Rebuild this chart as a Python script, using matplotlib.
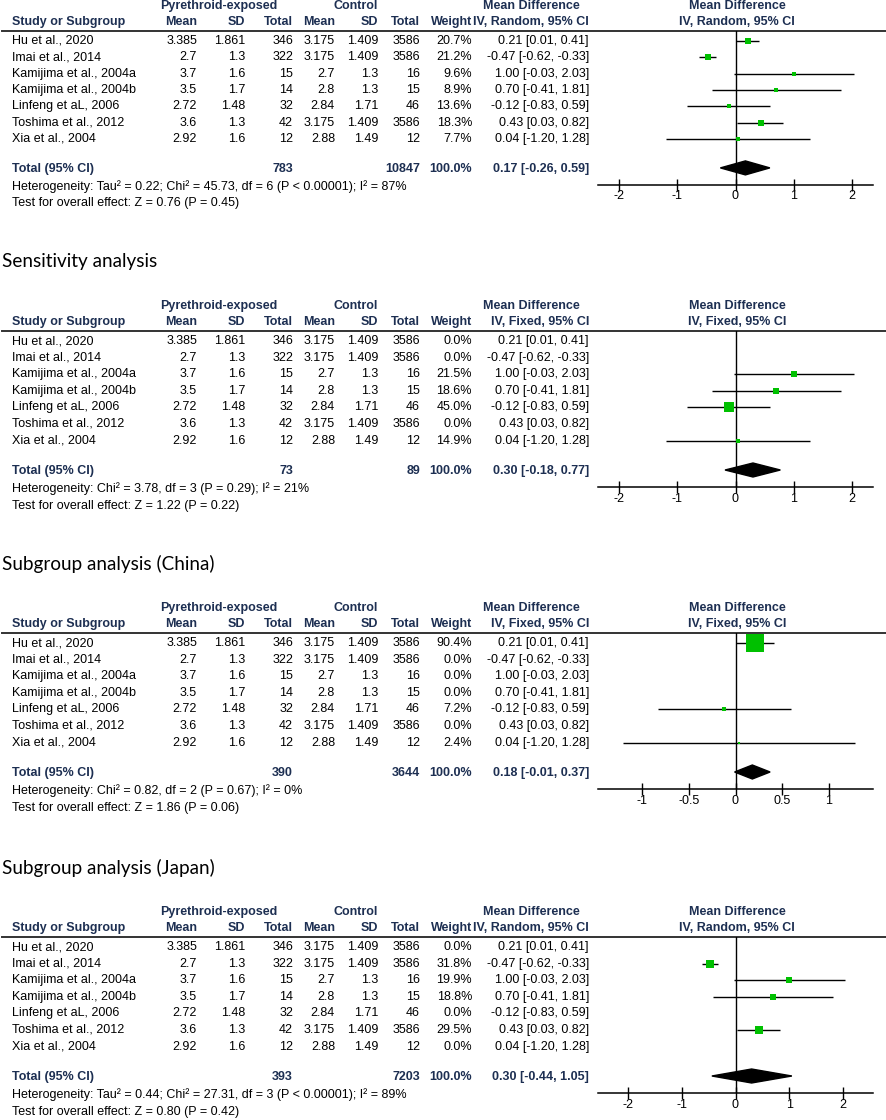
import matplotlib
matplotlib.use("Agg")
import matplotlib.pyplot as plt

# ---- data ----
studies = ["Hu et al., 2020", "Imai et al., 2014", "Kamijima et al., 2004a",
           "Kamijima et al., 2004b", "Linfeng et aL, 2006", "Toshima et al., 2012",
           "Xia et al., 2004"]
exp_mean = ["3.385", "2.7", "3.7", "3.5", "2.72", "3.6", "2.92"]
exp_sd = ["1.861", "1.3", "1.6", "1.7", "1.48", "1.3", "1.6"]
exp_n = [346, 322, 15, 14, 32, 42, 12]
ctrl_mean = ["3.175", "3.175", "2.7", "2.8", "2.84", "3.175", "2.88"]
ctrl_sd = ["1.409", "1.409", "1.3", "1.3", "1.71", "1.409", "1.49"]
ctrl_n = [3586, 3586, 16, 15, 46, 3586, 12]
md = [0.21, -0.47, 1.00, 0.70, -0.12, 0.43, 0.04]
ci_lo = [0.01, -0.62, -0.03, -0.41, -0.83, 0.03, -1.20]
ci_hi = [0.41, -0.33, 2.03, 1.81, 0.59, 0.82, 1.28]

panel_titles = [None, "Sensitivity analysis", "Subgroup analysis (China)",
                "Subgroup analysis (Japan)"]
panel_methods = ["Random", "Fixed", "Fixed", "Random"]
panel_weights = [
    [20.7, 21.2, 9.6, 8.9, 13.6, 18.3, 7.7],
    [0.0, 0.0, 21.5, 18.6, 45.0, 0.0, 14.9],
    [90.4, 0.0, 0.0, 0.0, 7.2, 0.0, 2.4],
    [0.0, 31.8, 19.9, 18.8, 0.0, 29.5, 0.0],
]
total_exp = [783, 73, 390, 393]
total_ctrl = [10847, 89, 3644, 7203]
total_md = [0.17, 0.30, 0.18, 0.30]
total_lo = [-0.26, -0.18, -0.01, -0.44]
total_hi = [0.59, 0.77, 0.37, 1.05]
heterogeneity = [
    "Heterogeneity: Tau\u00b2 = 0.22; Chi\u00b2 = 45.73, df = 6 (P < 0.00001); I\u00b2 = 87%",
    "Heterogeneity: Chi\u00b2 = 3.78, df = 3 (P = 0.29); I\u00b2 = 21%",
    "Heterogeneity: Chi\u00b2 = 0.82, df = 2 (P = 0.67); I\u00b2 = 0%",
    "Heterogeneity: Tau\u00b2 = 0.44; Chi\u00b2 = 27.31, df = 3 (P < 0.00001); I\u00b2 = 89%",
]
overall_effect = ["Z = 0.76 (P = 0.45)", "Z = 1.22 (P = 0.22)",
                  "Z = 1.86 (P = 0.06)", "Z = 0.80 (P = 0.42)"]
panel_ticks = [[-2, -1, 0, 1, 2], [-2, -1, 0, 1, 2],
               [-1, -0.5, 0, 0.5, 1], [-2, -1, 0, 1, 2]]
tick_labels = [["-2", "-1", "0", "1", "2"], ["-2", "-1", "0", "1", "2"],
               ["-1", "-0.5", "0", "0.5", "1"], ["-2", "-1", "0", "1", "2"]]
panel_xmax = [2.36, 2.36, 1.47, 2.56]

# ---- layout (pixels) ----
W, H = 886, 1120
RULE_Y = [31, 331, 633, 937]
PANEL_SCALE = [0.985, 1.0, 1.0, 1.0]  # first panel is packed a bit tighter
ROW0 = 10
ROW_STEP = 16.6
TOTAL_OFF = 140
HET_OFF = 158
TEST_OFF = 175
AXIS_OFF = 156
FOREST_L, FOREST_R = 598, 873

COL_EXP_MEAN, COL_EXP_SD, COL_EXP_N = 197, 245, 293
COL_CTL_MEAN, COL_CTL_SD, COL_CTL_N = 335, 378, 420
COL_WEIGHT, COL_CI = 472, 589

FONT = "Liberation Sans"
FS = 9
HEAD = "#1d2f52"
GREEN = "#00c000"

fig = plt.figure(figsize=(W / 100, H / 100), dpi=100)
ax = fig.add_axes([0, 0, 1, 1])
ax.set_xlim(0, W)
ax.set_ylim(H, 0)
ax.axis("off")


def txt(x, y, s, ha="left", bold=False, color="black", size=FS, family=FONT):
    ax.text(x, y, s, ha=ha, va="center", fontsize=size, family=family,
            fontweight="bold" if bold else "normal", color=color)


def draw_panel(p):
    top = RULE_Y[p]
    k = PANEL_SCALE[p]
    if panel_titles[p]:
        txt(2, top - 69, panel_titles[p], size=13.6, family="Lato")

    method = panel_methods[p]
    # headers
    txt(219, top - 25, "Pyrethroid-exposed", ha="center", bold=True, color=HEAD)
    txt(356, top - 25, "Control", ha="center", bold=True, color=HEAD)
    txt(531, top - 25, "Mean Difference", ha="center", bold=True, color=HEAD)
    txt(737, top - 25, "Mean Difference", ha="center", bold=True, color=HEAD)
    txt(12, top - 9, "Study or Subgroup", bold=True, color=HEAD)
    for x, s in [(COL_EXP_MEAN, "Mean"), (COL_EXP_SD, "SD"), (COL_EXP_N, "Total"),
                 (COL_CTL_MEAN, "Mean"), (COL_CTL_SD, "SD"), (COL_CTL_N, "Total"),
                 (COL_WEIGHT, "Weight"), (COL_CI, f"IV, {method}, 95% CI")]:
        txt(x, top - 9, s, ha="right", bold=True, color=HEAD)
    txt(737, top - 9, f"IV, {method}, 95% CI", ha="center", bold=True, color=HEAD)
    ax.axhline(top, xmin=2 / W, xmax=1, color="#333333", lw=1.4)

    weights = panel_weights[p]
    row_y = [k * (ROW0 + i * ROW_STEP) for i in range(len(studies))]
    for i, name in enumerate(studies):
        y = top + row_y[i]
        txt(12, y, name)
        txt(COL_EXP_MEAN, y, exp_mean[i], ha="right")
        txt(COL_EXP_SD, y, exp_sd[i], ha="right")
        txt(COL_EXP_N, y, str(exp_n[i]), ha="right")
        txt(COL_CTL_MEAN, y, ctrl_mean[i], ha="right")
        txt(COL_CTL_SD, y, ctrl_sd[i], ha="right")
        txt(COL_CTL_N, y, str(ctrl_n[i]), ha="right")
        txt(COL_WEIGHT, y, f"{weights[i]:.1f}%", ha="right")
        txt(COL_CI, y, f"{md[i]:.2f} [{ci_lo[i]:.2f}, {ci_hi[i]:.2f}]", ha="right")

    ty = top + k * TOTAL_OFF
    txt(12, ty, "Total (95% CI)", bold=True, color=HEAD)
    txt(COL_EXP_N, ty, str(total_exp[p]), ha="right", bold=True, color=HEAD)
    txt(COL_CTL_N, ty, str(total_ctrl[p]), ha="right", bold=True, color=HEAD)
    txt(COL_WEIGHT, ty, "100.0%", ha="right", bold=True, color=HEAD)
    txt(COL_CI, ty, f"{total_md[p]:.2f} [{total_lo[p]:.2f}, {total_hi[p]:.2f}]",
        ha="right", bold=True, color=HEAD)
    txt(12, top + k * HET_OFF, heterogeneity[p])
    txt(12, top + k * TEST_OFF, "Test for overall effect: " + overall_effect[p])

    # forest plot axes: y in pixel offsets below the rule
    axis_h = k * AXIS_OFF
    axis_y = top + axis_h
    fx = fig.add_axes([FOREST_L / W, 1 - axis_y / H,
                       (FOREST_R - FOREST_L) / W, axis_h / H])
    fx.set_xlim(-panel_xmax[p], panel_xmax[p])
    fx.set_ylim(axis_h, 0)
    fx.patch.set_alpha(0)
    for side in ("top", "right", "left"):
        fx.spines[side].set_visible(False)
    fx.spines["bottom"].set_linewidth(1.1)
    fx.set_yticks([])
    fx.set_xticks(panel_ticks[p])
    fx.set_xticklabels(tick_labels[p], family=FONT, fontsize=FS)
    fx.tick_params(axis="x", direction="inout", length=8, width=1, pad=0)
    fx.axvline(0, color="black", lw=1)

    for i in range(len(studies)):
        w = weights[i]
        if w <= 0:
            continue
        y = row_y[i]
        fx.hlines(y, ci_lo[i], ci_hi[i], color="black", lw=1)
        side_px = max(2.5, 0.754 * w ** 0.7)
        side_pt = side_px * 72 / 100
        fx.scatter([md[i]], [y], marker="s", s=side_pt ** 2, color=GREEN,
                   linewidths=0, zorder=3)

    # pooled diamond
    yd = k * TOTAL_OFF - 1
    fx.fill([total_lo[p], total_md[p], total_hi[p], total_md[p]],
            [yd, yd - 7, yd, yd + 7], color="black", zorder=3)


for p in range(4):
    draw_panel(p)

fig.savefig("out.png", dpi=100)
